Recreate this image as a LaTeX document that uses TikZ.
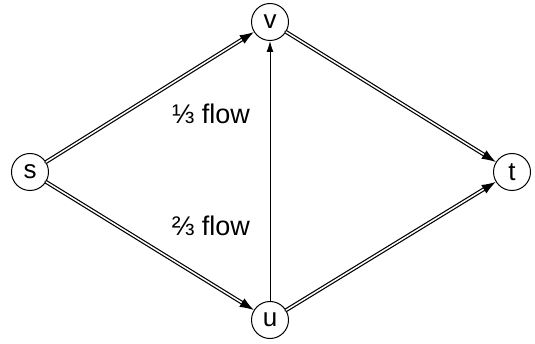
\documentclass[tikz,border=0pt]{standalone}
\usepackage{fontspec}
\setmainfont{Liberation Sans}
\usetikzlibrary{arrows.meta}
\tikzset{
  vertex/.style={draw, circle, minimum size=37pt, inner sep=0pt, line width=1pt, font=\fontsize{26}{30}\selectfont},
  flowedge/.style={double, line width=1.2pt, double distance=1.5pt, -{Latex[length=14pt,width=10pt]}},
  thinedge/.style={line width=1pt, -{Latex[length=11pt,width=7pt]}},
  flowlabel/.style={font=\fontsize{27}{30}\selectfont}
}

\begin{document}
\begin{tikzpicture}[x=1pt, y=-1pt, line cap=round]
    \useasboundingbox (0,0) rectangle (535,344);

    % Vertices
    \node[vertex] (s) at (30,172) {s};
    \node[vertex] (v) at (270,22) {v};
    \node[vertex] (u) at (270,320) {u};
    \node[vertex] (t) at (512,172) {t};

    % Flow edges
    \draw[flowedge] (s) -- (v);
    \draw[flowedge] (s) -- (u);
    \draw[flowedge] (v) -- (t);
    \draw[flowedge] (u) -- (t);
    \draw[thinedge] (u) -- (v);

    % Labels
    \node[flowlabel] (third) at (211,114) {⅓ flow};
    \node[flowlabel] (twothirds) at (211,226) {⅔ flow};
\end{tikzpicture}
\end{document}
